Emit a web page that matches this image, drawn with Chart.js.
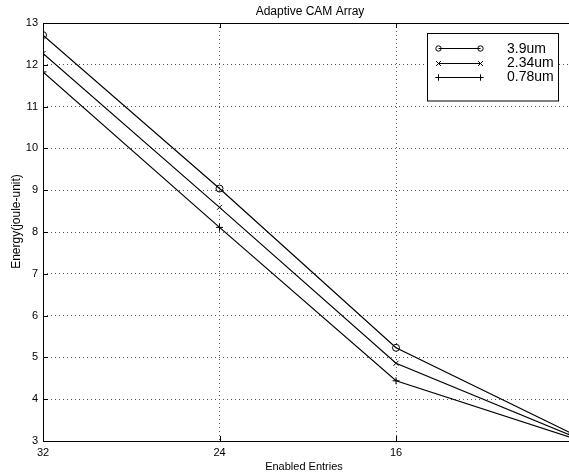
<!DOCTYPE html>
<html>
<head>
<meta charset="utf-8">
<script src="https://cdn.jsdelivr.net/npm/chart.js@4/dist/chart.umd.min.js"></script>
<style>
html,body{margin:0;padding:0;background:#fff;}
#c{display:block;}
</style>
</head>
<body>
<canvas id="c" width="569" height="476"></canvas>
<script>
const titleText = "Adaptive CAM Array";
const xTitle = "Enabled Entries";
const yTitle = "Energy(joule-unit)";
const entries = [32, 24, 16, 8];
const xTickValues = [32, 24, 16];
const seriesLabels = ["3.9um", "2.34um", "0.78um"];
const energy39 = [12.71, 9.04, 5.23, 3.17];
const energy234 = [12.27, 8.59, 4.86, 3.12];
const energy078 = [11.83, 8.11, 4.44, 3.07];
const markers = ["circle", "crossRot", "cross"];

const FONT = "'Liberation Sans', Arial, Helvetica, sans-serif";

function pts(vals){ return entries.map((x,i)=>({x:x, y:vals[i]})); }

function makeDs(label, vals, style){
  return {
    label: label,
    data: pts(vals),
    showLine: true,
    borderColor: '#000',
    borderWidth: 1.2,
    backgroundColor: 'rgba(0,0,0,0)',
    pointStyle: style,
    pointRadius: 3.5,
    pointBorderColor: '#000',
    pointBackgroundColor: 'rgba(0,0,0,0)',
    pointBorderWidth: 1,
    tension: 0
  };
}

function drawMarker(ctx, style, x, y, r){
  ctx.save();
  ctx.strokeStyle = '#000';
  ctx.lineWidth = 1;
  ctx.beginPath();
  if (style === 'circle') {
    ctx.arc(x, y, r, 0, Math.PI*2);
  } else if (style === 'crossRot') {
    const d = r*0.75;
    ctx.moveTo(x-d, y-d); ctx.lineTo(x+d, y+d);
    ctx.moveTo(x-d, y+d); ctx.lineTo(x+d, y-d);
  } else {
    ctx.moveTo(x-r, y); ctx.lineTo(x+r, y);
    ctx.moveTo(x, y-r); ctx.lineTo(x, y+r);
  }
  ctx.stroke();
  ctx.restore();
}

const framePlugin = {
  id: 'frame',
  afterDraw(chart){
    const ctx = chart.ctx;
    const a = chart.chartArea;
    const xs = chart.scales.x, ys = chart.scales.y;
    ctx.save();
    ctx.strokeStyle = '#000';
    ctx.lineWidth = 1;
    // frame: left, bottom, top (right edge lies beyond the picture)
    ctx.beginPath();
    ctx.moveTo(Math.round(a.left)+0.5, a.top);
    ctx.lineTo(Math.round(a.left)+0.5, a.bottom);
    ctx.moveTo(a.left, Math.round(a.bottom)+0.5);
    ctx.lineTo(a.right, Math.round(a.bottom)+0.5);
    ctx.moveTo(a.left, Math.round(a.top)+0.5);
    ctx.lineTo(a.right, Math.round(a.top)+0.5);
    ctx.stroke();
    // inward ticks
    const tl = 5;
    ctx.beginPath();
    xTickValues.forEach(v=>{
      const px = Math.round(xs.getPixelForValue(v))+0.5;
      ctx.moveTo(px, a.bottom); ctx.lineTo(px, a.bottom - tl);
      ctx.moveTo(px, a.top); ctx.lineTo(px, a.top + tl);
    });
    ys.ticks.forEach(t=>{
      const py = Math.round(ys.getPixelForValue(t.value))+0.5;
      ctx.moveTo(a.left, py); ctx.lineTo(a.left + tl, py);
    });
    ctx.stroke();

    // legend box
    const bx = 427.5, by = 33.5, bw = 131, bh = 67.5;
    ctx.fillStyle = '#fff';
    ctx.fillRect(bx, by, bw, bh);
    ctx.strokeRect(bx, by, bw, bh);
    const rows = [48.3, 62.7, 76.7];
    ctx.font = '14px ' + FONT;
    ctx.fillStyle = '#000';
    ctx.textAlign = 'left';
    ctx.textBaseline = 'middle';
    chart.data.datasets.forEach((ds, i)=>{
      const y = Math.round(rows[i]) + 0.5;
      ctx.beginPath();
      ctx.moveTo(438.5, y); ctx.lineTo(480.5, y);
      ctx.stroke();
      const r = markers[i] === 'circle' ? 2.7 : 3.2;
      drawMarker(ctx, markers[i], 438.5, y, r);
      drawMarker(ctx, markers[i], 480.5, y, r);
      ctx.fillText(ds.label, 507, rows[i] + 0.5);
    });

    // titles
    ctx.textAlign = 'center';
    ctx.textBaseline = 'middle';
    ctx.font = '12px ' + FONT;
    ctx.fillText(titleText, 310, 12);
    ctx.font = '11px ' + FONT;
    ctx.fillText(xTitle, 304, 466.5);
    ctx.save();
    ctx.translate(16.5, 221.5);
    ctx.rotate(-Math.PI/2);
    ctx.font = '12px ' + FONT;
    ctx.fillText(yTitle, 0, 0);
    ctx.restore();
    ctx.restore();
  }
};

new Chart(document.getElementById('c'), {
  type: 'scatter',
  data: {
    datasets: [
      makeDs(seriesLabels[0], energy39, markers[0]),
      makeDs(seriesLabels[1], energy234, markers[1]),
      makeDs(seriesLabels[2], energy078, markers[2])
    ]
  },
  options: {
    responsive: false,
    animation: false,
    devicePixelRatio: 1,
    layout: { autoPadding: false, padding: { top: 23, left: 0, right: 0, bottom: 0 } },
    plugins: {
      legend: { display: false },
      title: { display: false },
      tooltip: { enabled: false }
    },
    scales: {
      x: {
        type: 'linear',
        reverse: true,
        min: 8.16,
        max: 32,
        afterBuildTicks: (s)=>{ s.ticks = xTickValues.map(v=>({value:v})); },
        afterFit: (s)=>{ s.height = 35; s.paddingLeft = 0; s.paddingRight = 0; },
        ticks: {
          color: '#000',
          font: { family: FONT, size: 11 },
          padding: 5,
          maxRotation: 0,
          autoSkip: false,
          callback: (v)=>String(v)
        },
        grid: { color: '#555', lineWidth: 1, drawTicks: false },
        border: { display: false, dash: [1, 3] }
      },
      y: {
        min: 3,
        max: 13,
        afterFit: (s)=>{ s.width = 43; s.paddingTop = 0; s.paddingBottom = 0; },
        ticks: {
          stepSize: 1,
          color: '#000',
          font: { family: FONT, size: 11 },
          padding: 5
        },
        grid: { color: '#555', lineWidth: 1, drawTicks: false },
        border: { display: false, dash: [1, 3] }
      }
    }
  },
  plugins: [framePlugin]
});
</script>
</body>
</html>
